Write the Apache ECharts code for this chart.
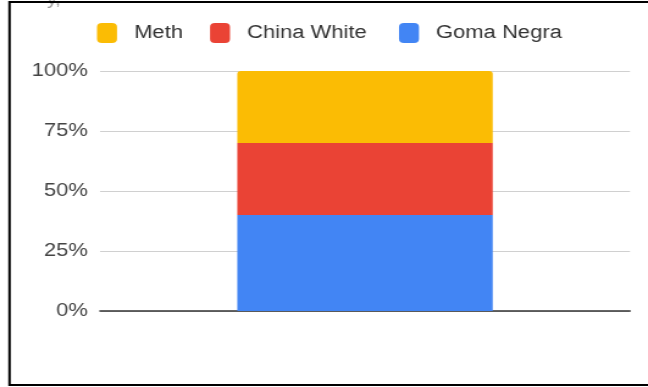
<!DOCTYPE html>
<html>
<head>
<meta charset="utf-8">
<script src="https://cdn.jsdelivr.net/npm/echarts@6/dist/echarts.min.js"></script>
<style>
html,body{margin:0;padding:0;background:#fff;overflow:hidden;}
#wrap{width:648px;height:387px;position:relative;overflow:hidden;}
#chart{width:531px;height:387px;transform:scaleX(1.2203);transform-origin:0 0;}
</style>
</head>
<body>
<div id="wrap"><div id="chart"></div></div>
<script>
const categories = [''];
const seriesNames = ['Goma Negra', 'China White', 'Meth'];
const gomaNegra = [40];
const chinaWhite = [30];
const meth = [30];
const yTicks = [0, 25, 50, 75, 100];

const S = 1.2203; // horizontal stretch of the reference
const colors = {'Goma Negra':'#4285F4','China White':'#EA4335','Meth':'#FBBC04'};
const values = {'Goma Negra':gomaNegra,'China White':chinaWhite,'Meth':meth};
const legendLeft = {'Meth':97,'China White':210,'Goma Negra':399};
const font = 'Liberation Sans, Arial, sans-serif';

const chart = echarts.init(document.getElementById('chart'), null, {renderer:'canvas'});
const legendOrder = ['Meth','China White','Goma Negra'];
chart.setOption({
  animation:false,
  backgroundColor:'#fff',
  legend: legendOrder.map(n => ({
    data:[{name:n, icon:'roundRect'}],
    left: legendLeft[n]/S, top: 23, padding:0,
    itemWidth:20/S, itemHeight:20, itemGap:0,
    textStyle:{fontFamily:font, fontSize:18, color:'#333', padding:[0,0,0,9]},
    selectedMode:false
  })),
  grid:{left:100/S, right:18/S, top:71, bottom:76, containLabel:false},
  xAxis:{
    type:'category', data:categories,
    axisLine:{lineStyle:{color:'#333', width:1.5}},
    axisTick:{show:false}, axisLabel:{show:false}
  },
  yAxis:{
    type:'value', min:yTicks[0], max:yTicks[yTicks.length-1], interval:25,
    axisLabel:{formatter:'{value}%', fontFamily:font, fontSize:18, color:'#444', margin:10},
    splitLine:{lineStyle:{color:'#d0d0d0', width:1}},
    axisLine:{show:false}, axisTick:{show:false}
  },
  series: seriesNames.map((n,i) => ({
    name:n, type:'bar', stack:'total', data:values[n],
    barWidth:'48.2%',
    itemStyle:{color:colors[n], borderRadius: i===seriesNames.length-1 ? [3,3,0,0] : 0}
  })),
  graphic:[
    {type:'polyline', shape:{points:[[560,2],[9.5/S,2],[9.5/S,385],[560,385]]}, style:{stroke:'#000', lineWidth:2, fill:null}, z:100},
    {type:'text', left:47/S, top:-7, style:{text:'y,', fontFamily:font, fontSize:16, fill:'#999'}}
  ]
});
</script>
</body>
</html>
